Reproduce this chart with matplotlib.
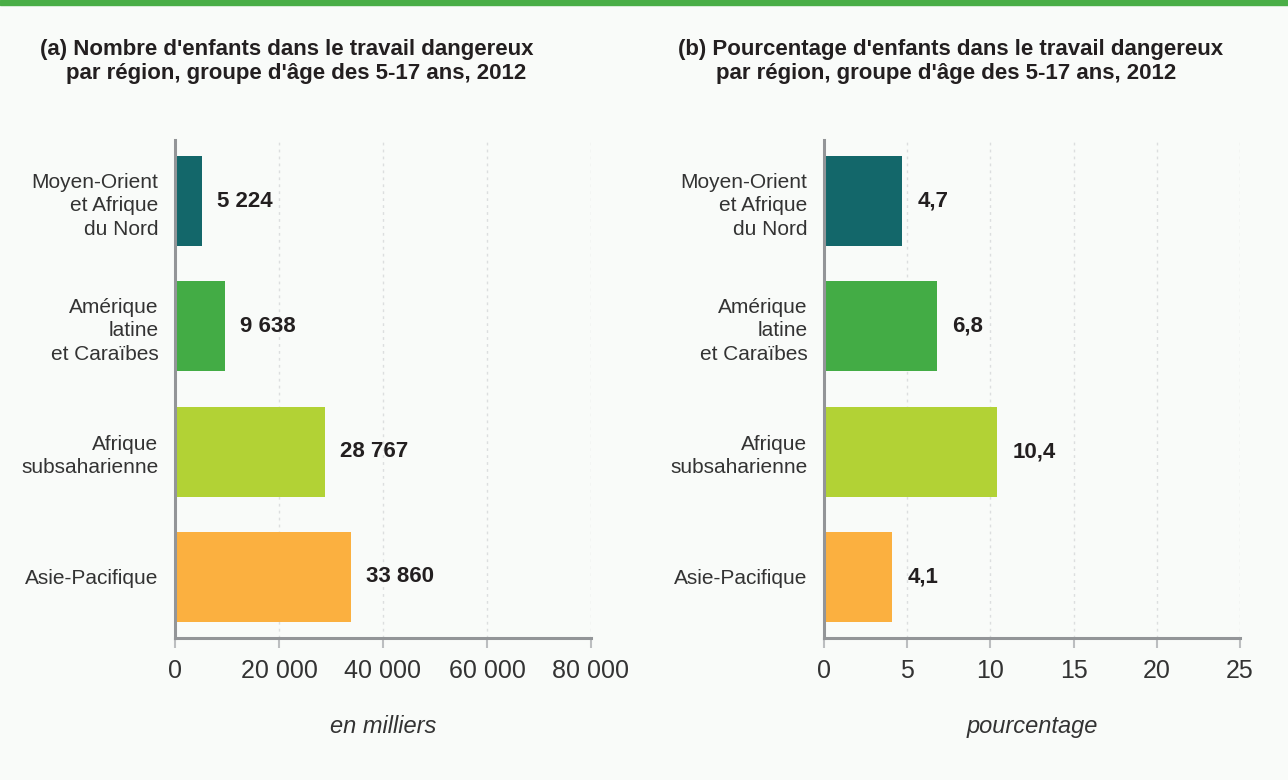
import matplotlib
matplotlib.use("Agg")
import matplotlib.pyplot as plt
from matplotlib.patches import Rectangle

regions = ["Moyen-Orient\net Afrique\ndu Nord",
           "Amérique\nlatine\net Caraïbes",
           "Afrique\nsubsaharienne",
           "Asie-Pacifique"]
counts = [5224, 9638, 28767, 33860]
count_labels = ["5 224", "9 638", "28 767", "33 860"]
percents = [4.7, 6.8, 10.4, 4.1]
percent_labels = ["4,7", "6,8", "10,4", "4,1"]
colors = ["#13676a", "#43ac45", "#b2d235", "#fbb040"]

count_ticks = [0, 20000, 40000, 60000, 80000]
count_tick_labels = ["0", "20 000", "40 000", "60 000", "80 000"]
pct_ticks = [0, 5, 10, 15, 20, 25]
pct_tick_labels = ["0", "5", "10", "15", "20", "25"]

bg = "#f9fbf9"
sans = ["Liberation Sans", "DejaVu Sans"]

fig = plt.figure(figsize=(12.88, 7.8), dpi=100, facecolor=bg)
fig.patches.append(Rectangle((0, 1 - 5 / 780), 1, 5 / 780, transform=fig.transFigure,
                             color="#4aae47", zorder=0))


def panel(rect, values, value_labels, ticks, tick_labels, xlabel):
    ax = fig.add_axes(rect, facecolor=bg)
    y = list(range(len(values)))
    ax.barh(y, values, height=0.72, color=colors, zorder=3)
    ax.set_ylim(len(values) - 0.51, -0.49)
    ax.set_xlim(ticks[0], ticks[-1])
    ax.set_yticks(y)
    ax.set_yticklabels(regions, family=sans, fontsize=15, color="#333333",
                       linespacing=1.3)
    ax.tick_params(axis="y", length=0, pad=12)
    ax.set_xticks(ticks)
    ax.set_xticklabels(tick_labels, family=sans, fontsize=18, color="#333333")
    ax.tick_params(axis="x", length=7, width=1.5, color="#bcbec0", pad=8)
    for t in ticks[1:]:
        ax.axvline(t, color="#dcdedf", lw=1, ls=(0, (2, 3)), zorder=1)
    for s in ["top", "right"]:
        ax.spines[s].set_visible(False)
    for s in ["left", "bottom"]:
        ax.spines[s].set_color("#939598")
        ax.spines[s].set_linewidth(2.2)
        ax.spines[s].set_zorder(4)
    for yi, v, lab in zip(y, values, value_labels):
        ax.annotate(lab, (v, yi), xytext=(11, 0), textcoords="offset points",
                    ha="left", va="center", fontsize=16, fontweight="bold",
                    family=sans, color="#231f20")
    ax.set_xlabel(xlabel, family=sans, fontsize=17, style="italic",
                  color="#333333", labelpad=23)
    return ax


panel([175 / 1288, 142 / 780, 416 / 1288, 498 / 780], counts, count_labels,
      count_ticks, count_tick_labels, "en milliers")
panel([824 / 1288, 142 / 780, 416 / 1288, 498 / 780], percents, percent_labels,
      pct_ticks, pct_tick_labels, "pourcentage")

title_kw = dict(family=sans, fontsize=16, fontweight="bold", color="#231f20",
                va="center", ha="left")
fig.text(40 / 1288, 1 - 49 / 780, "(a) Nombre d'enfants dans le travail dangereux", **title_kw)
fig.text(66 / 1288, 1 - 73 / 780, "par région, groupe d'âge des 5-17 ans, 2012", **title_kw)
fig.text(678 / 1288, 1 - 49 / 780, "(b) Pourcentage d'enfants dans le travail dangereux", **title_kw)
fig.text(716 / 1288, 1 - 73 / 780, "par région, groupe d'âge des 5-17 ans, 2012", **title_kw)

fig.savefig("out.png", dpi=100, facecolor=bg)
